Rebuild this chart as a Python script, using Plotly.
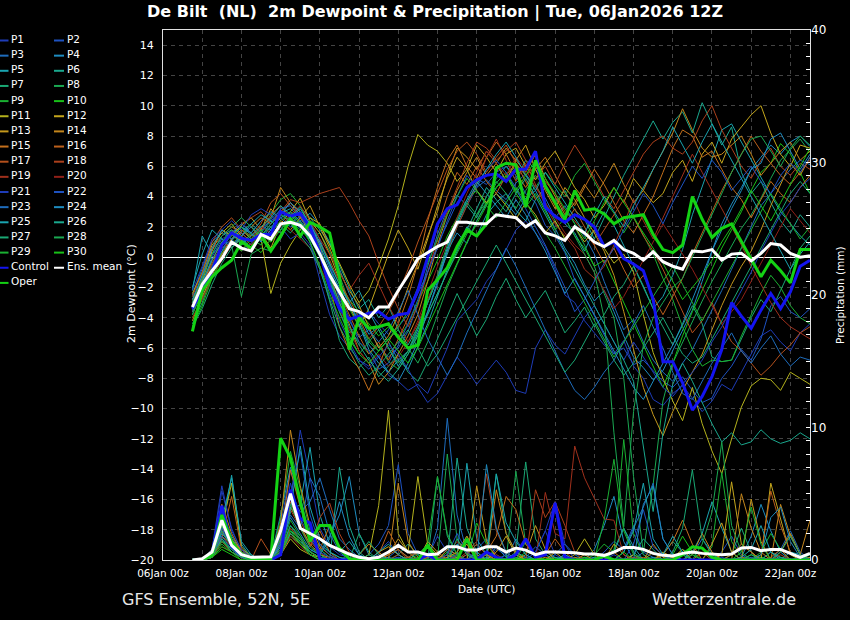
import pandas as pd
import plotly.graph_objects as go

# 6-hourly forecast steps, GFS ensemble run 06Jan2026 12Z
times = pd.date_range("2026-01-06 18:00", "2026-01-22 12:00", freq="6h")

# --- 2m dewpoint (deg C) ---
mean_dew = [-3.3, -1.8, -0.9, -0.1, 1.0, 0.6, 0.4, 1.5, 1.2, 2.2, 2.3, 2.1, 1.4, 0.2, -1.2, -2.3,
            -3.4, -3.6, -4.0, -3.3, -3.3, -2.2, -1.2, -0.1, 0.3, 0.7, 1.0, 2.3, 2.3, 2.2, 2.2, 2.8,
            2.7, 2.6, 2.0, 2.4, 1.6, 1.4, 1.1, 2.0, 1.6, 1.0, 0.7, 1.1, 0.5, 0.25, -0.2, 0.35,
            -0.3, -0.6, -0.8, 0.4, 0.35, 0.5, -0.2, 0.2, 0.25, -0.25, 0.25, 0.9, 0.8, 0.25, 0.0, 0.1]
control_dew = [-3.4, -2.2, -0.9, 0.8, 1.6, 1.25, 1.1, 1.5, 1.5, 3.0, 2.7, 2.9, 2.0, 0.3, -2.0, -3.4,
               -4.1, -3.9, -3.7, -3.6, -4.1, -3.8, -3.7, -2.2, 0.0, 2.2, 3.2, 3.45, 4.6, 5.1, 5.4, 5.5,
               5.0, 5.8, 5.8, 7.0, 3.3, 2.7, 2.3, 2.8, 2.5, 2.0, 0.7, 1.0, -0.1, -0.45, -0.9, -2.8,
               -6.9, -6.9, -8.3, -10.1, -9.2, -7.9, -6.1, -3.0, -3.9, -4.7, -3.5, -2.4, -3.4, -2.3, -0.6, -0.2]
oper_dew = [-4.9, -2.2, -1.3, -0.7, -0.2, 1.0, 0.6, 1.4, 0.4, 1.4, 2.5, 1.4, 2.3, 2.0, 1.6, -1.3,
            -6.1, -4.0, -4.7, -4.6, -4.4, -5.3, -6.0, -5.8, -2.2, -1.5, -0.7, 0.7, 1.8, 1.4, 2.2, 5.9,
            6.2, 6.1, 3.3, 6.4, 4.7, 3.6, 2.5, 4.4, 3.1, 3.2, 2.85, 2.2, 2.6, 2.7, 2.8, 1.5,
            0.5, 0.3, 0.8, 4.0, 2.5, 1.3, 1.9, 2.2, 1.0, -0.2, -1.3, -0.2, -0.9, -1.7, 0.5, 0.5]

p01_dew = [-2.8, -1.5, 0.5, 1.2, 1.6, 0.9, 1.4, 2.0, 1.8, 2.6, 2.9, 2.2, 1.0, -1.5, -3.8, -5.2,
           -6.0, -6.8, -7.2, -6.5, -7.8, -8.2, -8.8, -8.4, -9.0, -7.5, -6.0, -4.2, -3.5, -2.8, -1.6, -0.8,
           0.5, 1.8, 2.4, 1.6, 0.7, -0.8, -2.5, -3.0, -4.2, -5.0, -5.8, -6.4, -5.5, -7.2, -8.0, -9.4,
           -9.8, -9.0, -8.5, -9.3, -10.2, -9.5, -8.4, -8.8, -7.6, -6.5, -5.2, -4.8, -5.6, -6.2, -5.0, -4.4]
p02_dew = [-3.5, -2.0, -0.4, 0.6, 1.2, 1.6, 1.0, 1.9, 2.4, 2.9, 2.2, 2.7, 1.8, 0.6, -0.5, -2.2,
           -3.4, -4.1, -3.6, -4.4, -5.1, -4.6, -3.8, -2.4, -1.0, 0.8, 2.2, 3.6, 4.5, 5.2, 4.8, 5.6,
           6.0, 5.4, 4.2, 3.6, 2.1, 1.4, 0.3, -1.5, -2.6, -3.9, -5.2, -6.4, -6.0, -7.1, -6.8, -7.5,
           -8.2, -8.6, -7.9, -8.8, -9.6, -9.3, -8.0, -7.2, -6.1, -6.8, -5.4, -3.2, -2.6, -3.6, -4.0, -3.4]
p03_dew = [-2.5, -0.8, 1.0, 1.6, 1.2, 0.4, 0.9, 1.7, 2.5, 3.1, 2.6, 1.9, 2.3, 1.2, -0.6, -2.8,
           -4.2, -5.3, -4.8, -5.9, -6.6, -6.0, -4.9, -3.1, -0.6, 1.5, 3.2, 4.1, 3.4, 4.6, 5.1, 4.4,
           3.8, 4.9, 5.5, 4.6, 3.9, 2.6, 3.4, 2.2, 1.4, 0.2, -1.6, -3.2, -4.8, -4.1, -5.6, -6.8,
           -7.6, -8.2, -7.0, -6.1, -4.8, -3.6, -2.2, -0.8, 0.6, 1.9, 3.4, 4.2, 5.0, 5.8, 6.4, 6.1]
p04_dew = [-3.0, -1.2, 0.2, 1.4, 1.8, 1.3, 0.6, 1.2, 2.0, 2.6, 3.0, 2.4, 2.9, 2.1, 1.0, -0.8,
           -2.4, -3.8, -5.1, -4.6, -5.6, -6.8, -6.2, -5.0, -3.6, -1.8, 0.4, 1.6, 0.9, 2.4, 3.5, 4.2,
           3.6, 2.8, 3.9, 4.4, 3.2, 1.9, 0.6, -0.4, -1.8, -2.9, -2.2, -3.6, -5.2, -6.6, -7.3, -8.1,
           -7.5, -6.2, -4.8, -3.5, -1.6, 0.4, 2.2, 3.5, 4.6, 5.8, 6.6, 7.4, 6.8, 7.6, 8.0, 7.3]
p05_dew = [-2.2, 1.4, 0.2, 0.8, 1.6, 2.0, 1.5, 1.1, 1.8, 2.9, 3.2, 2.6, 1.6, 0.2, -1.8, -3.6,
           -5.0, -4.4, -6.1, -7.0, -7.6, -6.8, -7.4, -5.9, -4.4, -2.6, -0.8, 0.6, 2.0, 1.4, 2.8, 3.6,
           4.2, 3.1, 2.4, 3.8, 4.6, 3.5, 2.2, 1.6, 0.4, 1.8, 3.0, 2.1, 0.8, -0.5, -1.9, -3.4,
           -2.6, -1.2, 0.5, 2.8, 4.6, 6.5, 8.4, 8.8, 7.6, 6.4, 5.2, 4.1, 3.0, 2.2, 1.4, 0.8]
p06_dew = [-3.8, -2.2, -0.8, 0.4, 1.1, 1.7, 2.2, 1.6, 2.4, 1.8, 2.7, 3.3, 2.6, 1.8, 0.9, -0.6,
           -2.0, -3.4, -2.8, -4.0, -3.2, -4.8, -5.8, -4.6, -3.0, -1.5, 0.2, 2.0, 3.4, 2.6, 4.0, 5.2,
           6.0, 5.1, 6.4, 5.8, 4.7, 3.6, 4.4, 3.1, 2.5, 1.2, 2.6, 4.0, 5.4, 6.6, 7.8, 9.0,
           7.8, 8.9, 9.6, 8.2, 10.2, 8.8, 7.4, 8.6, 5.6, 4.2, 5.0, 3.6, 2.4, 1.6, 2.8, 2.0]
p07_dew = [-4.4, -3.0, -1.2, 0.2, 0.8, 1.2, 0.4, 1.5, 1.0, 2.2, 1.6, 2.4, 1.0, -0.6, -2.9, -5.5,
           -6.7, -7.3, -6.6, -7.9, -7.2, -6.4, -7.6, -8.2, -6.9, -5.4, -4.0, -2.4, -3.8, -5.2, -4.1, -2.6,
           -1.4, -2.8, -4.0, -3.1, -2.2, -3.6, -5.0, -4.2, -3.3, -4.6, -3.8, -2.6, -1.8, -0.6, -2.0, -3.4,
           -4.6, -5.8, -4.5, -3.2, -4.4, -6.6, -6.9, -6.8, -5.4, -4.0, -2.8, -3.6, -2.2, -0.8, 0.6, 1.4]
p08_dew = [-2.6, -1.8, -0.2, 0.6, 0.8, -2.6, 0.2, 0.6, 0.4, 1.2, 2.4, 1.8, 1.2, 1.6, 0.4, -1.2,
           -3.0, -4.2, -5.6, -6.2, -5.4, -4.8, -6.0, -7.0, -5.6, -3.8, -2.0, -0.5, 1.0, 2.4, 3.6, 4.9,
           5.6, 4.4, 3.5, 4.8, 3.6, 2.4, 1.2, 2.0, 0.8, -0.6, -2.4, -4.0, -8.0, -14.5, -19.5, -15.0,
           -9.5, -7.0, -5.6, -4.3, -2.9, -1.6, -0.4, 0.8, 1.9, 2.8, 3.9, 5.2, 6.4, 7.1, 7.8, 6.9]
p09_dew = [-3.2, -2.0, -0.9, 1.0, 1.8, 0.8, 1.6, 2.4, 2.9, 3.8, 4.2, 3.4, 2.0, 0.4, -1.6, -3.3,
           -4.8, -5.6, -6.4, -5.8, -6.9, -7.4, -6.4, -5.1, -3.8, -2.4, -1.0, 0.3, 1.6, 2.8, 3.6, 4.6,
           5.2, 6.1, 5.4, 4.6, 5.6, 4.8, 4.0, 5.4, 6.2, 5.0, 3.8, 2.9, 1.6, 2.7, 1.4, 0.2,
           -1.4, -2.8, -4.6, -6.1, -7.2, -6.8, -6.9, -6.8, -5.2, -3.8, -2.4, -1.2, -2.0, -3.2, -4.0, -4.4]
p10_dew = [-4.0, -2.8, -1.0, 0.3, 0.9, 1.4, 0.8, 0.3, 1.2, 2.0, 2.8, 2.3, 1.6, 0.9, -0.4, -1.8,
           -2.8, -3.6, -4.4, -5.2, -4.6, -5.4, -4.4, -3.0, -1.6, -0.2, 1.4, 2.6, 3.8, 4.4, 3.5, 4.6,
           5.4, 4.2, 3.3, 4.2, 3.0, 1.8, 2.6, 1.4, 0.6, -0.6, -0.2, -1.6, -3.0, -4.4, -5.8, -7.2,
           -8.6, -7.0, -5.2, -3.6, -2.2, -0.8, 0.6, 1.8, 3.0, 4.4, 5.6, 6.2, 7.5, 6.8, 5.6, 4.2]
p11_dew = [-2.4, -1.0, 0.8, 1.6, 2.2, 1.4, 2.0, 1.2, -2.4, -0.4, 0.8, 1.8, 2.6, 2.2, 0.8, -0.4,
           -1.8, -3.0, -2.2, -0.6, 1.2, 3.4, 6.0, 8.1, 7.4, 7.0, 6.2, 5.0, 5.8, 4.4, 3.6, 4.2,
           3.4, 2.5, 3.6, 2.8, 1.6, 2.4, 1.2, 2.0, 1.0, 1.8, 0.6, -0.4, 0.2, -1.0, -3.8, -6.3,
           -8.0, -9.5, -10.8, -8.6, -11.0, -12.8, -14.3, -12.0, -9.9, -8.5, -8.0, -8.1, -8.8, -7.6, -8.0, -8.4]
p12_dew = [-3.6, -2.4, -0.6, 0.9, 1.5, 1.1, 0.4, 1.6, 0.6, 2.2, 3.0, 3.9, 2.4, 1.6, 0.2, -1.5,
           -3.2, -4.6, -3.4, -1.6, 0.2, 1.8, 0.6, -0.8, 1.2, 3.4, 5.2, 6.6, 5.8, 7.4, 6.6, 5.6,
           6.8, 7.2, 6.0, 5.1, 6.2, 7.0, 5.8, 4.6, 3.8, 2.6, 3.4, 4.6, 3.6, 5.2, 4.4, 3.6,
           4.2, 5.6, 6.4, 5.0, 6.8, 7.6, 6.2, 7.8, 8.6, 9.4, 10.0, 8.2, 6.8, 6.0, 7.4, 7.2]
p13_dew = [-2.8, -1.6, 0.4, 1.8, 1.4, 2.1, 2.6, 1.8, 3.2, 2.4, 1.8, 2.6, 3.4, 2.0, 0.6, -1.0,
           -2.2, -3.2, -4.6, -6.0, -5.2, -3.8, -2.0, -0.4, 1.4, 3.0, 5.4, 7.2, 6.6, 5.8, 7.0, 6.2,
           5.0, 6.4, 7.4, 5.8, 4.4, 3.2, 4.6, 3.8, 2.6, 1.6, 0.4, -1.2, -3.6, -6.2, -8.6, -10.4,
           -11.8, -10.2, -8.8, -7.6, -6.4, -4.8, -3.2, -1.8, -0.6, 0.4, 1.8, 3.4, 4.8, 6.2, 5.4, 6.6]
p14_dew = [-4.2, -2.6, -1.2, 0.2, 1.2, 1.8, 1.2, 2.0, 2.6, 4.6, 3.6, 2.8, 1.6, 0.4, -1.2, -3.0,
           -4.4, -6.2, -7.0, -8.4, -7.6, -6.4, -5.2, -3.8, -1.6, 0.8, 2.8, 4.4, 5.6, 6.6, 5.4, 6.2,
           7.2, 6.4, 5.6, 6.8, 5.2, 4.0, 2.8, 3.6, 4.8, 3.9, 5.0, 6.2, 4.8, 3.6, 4.4, 5.8,
           7.0, 8.2, 9.8, 8.4, 7.2, 6.6, 6.8, 7.4, 8.0, 6.8, 5.4, 6.2, 7.0, 7.6, 6.4, 7.0]
p15_dew = [-3.4, -2.0, -0.2, 1.0, 0.6, 1.4, 2.0, 2.6, 2.2, 3.0, 3.6, 3.0, 2.2, 0.8, -1.8, -4.6,
           -6.2, -7.4, -8.8, -7.2, -5.6, -4.4, -2.6, -0.4, 2.4, 4.6, 6.4, 7.4, 6.0, 5.2, 6.6, 7.6,
           6.8, 5.6, 4.6, 5.8, 6.6, 5.4, 4.2, 3.4, 4.6, 5.8, 4.8, 3.6, 2.4, 1.6, 2.8, 4.0,
           5.6, 7.2, 8.4, 8.0, 6.6, 7.0, 5.8, 4.6, 3.8, 2.6, 3.8, 5.0, 4.2, 3.6, 4.6, 5.4]
p16_dew = [-3.0, -1.4, 0.6, 1.4, 2.0, 1.6, 1.0, 1.8, 2.8, 3.4, 2.6, 2.0, 1.4, 0.2, -1.0, -2.4,
           -3.8, -5.2, -6.4, -5.6, -6.8, -5.4, -4.0, -2.2, -0.2, 2.0, 4.0, 5.6, 4.8, 6.0, 5.0, 4.2,
           5.4, 6.2, 5.0, 3.8, 4.6, 3.4, 2.2, 3.2, 2.0, 0.8, -0.4, 0.6, -0.8, -2.0, -1.2, -2.6,
           -3.8, -2.6, -1.4, 0.2, 1.6, 3.0, 4.4, 5.6, 6.8, 8.0, 7.0, 6.2, 5.4, 4.8, 5.6, 6.4]
p17_dew = [-2.6, -1.0, 1.0, 2.0, 2.6, 1.8, 1.4, 2.2, 3.6, 4.2, 3.4, 2.6, 1.8, 1.0, -0.2, -1.6,
           -2.8, -4.0, -5.4, -4.6, -3.6, -2.4, -0.8, 1.0, 2.6, 4.2, 5.8, 7.0, 7.6, 6.8, 5.6, 6.6,
           7.4, 6.2, 5.4, 6.0, 5.0, 4.2, 3.0, 2.4, 1.6, 0.8, 1.8, 2.8, 3.8, 2.6, 1.4, 0.4,
           -0.8, -2.2, -3.6, -5.0, -4.2, -3.0, -4.4, -5.6, -6.2, -7.0, -7.8, -7.2, -6.4, -5.8, -5.0, -4.6]
p18_dew = [-3.2, -2.2, -0.4, 0.8, 1.6, 2.2, 2.6, 3.0, 2.2, 3.0, 3.8, 3.6, 3.9, 4.2, 4.4, 4.6,
           3.6, 2.4, 1.4, -0.4, -2.0, -3.4, -4.6, -3.2, -1.0, 1.2, 3.0, 4.6, 6.2, 7.6, 7.2, 6.4,
           7.0, 7.6, 6.4, 5.2, 6.0, 4.8, 6.2, 7.4, 6.4, 5.2, 4.0, 3.2, 4.4, 5.6, 6.8, 7.6,
           8.0, 7.2, 6.8, 7.6, 9.0, 10.0, 8.4, 7.2, 6.0, 5.2, 6.4, 7.2, 6.0, 5.4, 6.2, 5.8]
p19_dew = [-4.0, -2.8, -1.4, -0.2, 0.8, 1.4, 0.8, 1.6, 1.0, 2.0, 2.8, 3.4, 2.4, 1.2, 0.2, -1.0,
           -2.2, -1.2, -0.4, -1.8, -3.2, -4.4, -5.6, -4.4, -2.8, -1.2, 0.4, 2.0, 3.4, 4.8, 6.6, 7.8,
           6.4, 5.0, 6.2, 4.8, 3.4, 2.2, 1.4, 0.6, -0.8, -1.4, -0.6, 0.8, 2.2, 3.8, 2.4, 1.2,
           2.6, 4.0, 5.4, 6.8, 5.6, 4.4, 3.2, 2.0, 0.8, -0.6, -1.8, -3.0, -4.0, -4.6, -5.0, -5.4]
p20_dew = [-3.4, -2.0, -0.6, 0.6, 1.0, 0.4, 1.2, 2.0, 1.6, 2.4, 1.8, 1.2, 0.6, -0.6, -2.0, -3.4,
           -4.8, -6.2, -7.0, -6.4, -7.2, -6.6, -5.6, -4.2, -2.4, -0.6, 1.0, 2.6, 4.2, 5.6, 7.0, 6.2,
           5.4, 6.6, 5.8, 4.6, 3.6, 2.6, 1.6, 0.8, 0.2, -1.0, -2.2, -3.4, -2.6, -1.4, -0.2, 1.0,
           2.2, 1.2, 0.2, -0.8, -2.0, -3.2, -4.4, -3.6, -2.8, -1.6, -0.4, 0.8, 2.0, 3.2, 2.4, 1.6]
p21_dew = [-2.2, -0.6, 1.2, 1.8, 2.4, 1.8, 2.8, 3.2, 2.8, 2.0, 1.2, 1.6, 0.8, -0.8, -2.6, -4.2,
           -5.6, -6.8, -7.4, -6.6, -5.8, -6.4, -7.4, -8.6, -9.6, -9.0, -7.8, -6.6, -7.4, -8.4, -7.6, -6.8,
           -7.6, -8.8, -9.0, -6.0, -4.8, -5.8, -6.4, -5.2, -4.0, -3.2, -4.4, -5.6, -6.8, -5.6, -6.6, -7.6,
           -8.6, -9.2, -8.4, -7.6, -6.8, -5.6, -4.6, -3.4, -2.2, -1.0, 0.4, 1.6, 2.8, 3.6, 4.6, 5.2]
p22_dew = [-3.0, -1.8, 0.0, 1.2, 0.8, 1.4, 2.0, 1.4, 2.2, 3.2, 3.4, 2.8, 1.6, 0.4, -1.0, -2.6,
           -4.0, -5.6, -6.2, -7.4, -7.0, -5.8, -4.4, -2.8, -1.0, 0.6, 2.4, 4.0, 5.4, 4.6, 5.8, 6.4,
           5.6, 4.6, 3.2, 2.0, 0.8, -0.6, -2.0, -3.6, -2.8, -1.6, -0.4, 0.6, 1.8, 3.0, 4.2, 3.4,
           2.2, 3.6, 4.8, 6.0, 5.2, 6.4, 5.6, 4.4, 5.2, 6.0, 5.0, 4.2, 5.4, 6.2, 5.6, 6.6]
p23_dew = [-3.6, -2.4, -0.8, 0.4, 1.6, 2.2, 1.6, 2.4, 3.0, 2.6, 2.0, 2.4, 1.6, 0.2, -1.6, -3.2,
           -4.2, -3.6, -4.8, -5.6, -4.8, -3.6, -2.2, -3.8, -5.4, -6.6, -7.8, -6.6, -5.0, -3.6, -2.2, -0.8,
           0.6, -0.6, -2.0, -3.4, -4.8, -6.2, -7.6, -8.8, -9.4, -8.6, -7.6, -6.8, -5.6, -4.4, -3.2, -4.6,
           -6.0, -7.6, -9.0, -9.4, -8.2, -7.0, -6.0, -5.0, -6.2, -7.0, -6.0, -5.2, -6.4, -7.2, -6.6, -6.8]
p24_dew = [-2.8, -1.2, 0.6, 1.8, 1.2, 2.0, 1.6, 1.0, 1.8, 2.8, 3.6, 3.0, 2.2, 0.8, -0.8, -2.0,
           -3.0, -4.4, -5.8, -6.6, -7.6, -8.2, -7.0, -5.6, -3.6, -1.6, 0.4, 2.4, 3.8, 5.0, 4.2, 3.4,
           2.6, 3.8, 2.8, 1.6, 0.4, -1.0, -2.4, -1.4, -2.6, -3.8, -5.0, -6.2, -7.4, -8.6, -9.4, -8.2,
           -7.0, -5.8, -4.4, -2.8, -1.2, 0.4, 1.8, 3.2, 4.4, 5.8, 6.2, 7.8, 8.2, 7.0, 5.8, 6.8]
p25_dew = [-2.0, 0.2, 1.8, 1.2, 0.6, 1.4, 2.2, 2.8, 2.4, 1.8, 2.6, 3.2, 2.2, 1.0, -0.4, -1.8,
           -3.0, -2.2, -3.6, -4.8, -6.0, -7.2, -6.2, -4.8, -3.0, -1.4, 0.6, 2.2, 3.6, 4.8, 5.8, 6.8,
           7.6, 6.6, 5.4, 4.4, 5.6, 4.6, 3.6, 2.6, 1.6, 2.8, 4.0, 3.0, 2.0, 3.4, 4.6, 5.8,
           7.0, 8.6, 7.4, 6.2, 7.6, 8.8, 7.6, 6.4, 5.2, 4.0, 2.8, 1.6, 0.4, -0.8, 0.2, 1.0]
p26_dew = [-3.4, -1.6, -0.2, 1.0, 1.6, 0.8, 1.4, 2.0, 2.6, 3.4, 2.8, 2.0, 1.2, 0.0, -1.4, -3.0,
           -4.6, -5.8, -6.8, -7.6, -8.2, -7.4, -6.4, -5.2, -3.8, -2.4, -1.0, 0.4, 1.8, 3.2, 4.6, 3.8,
           3.0, 4.2, 5.2, 4.0, 2.8, 1.6, 0.4, -0.8, -2.0, -3.2, -4.4, -5.6, -6.8, -8.2, -12.4, -16.8,
           -11.6, -8.4, -7.0, -8.2, -9.6, -11.0, -12.2, -11.6, -12.4, -12.2, -11.4, -12.0, -12.3, -12.1, -11.6, -12.0]
p27_dew = [-4.6, -3.4, -1.8, -0.4, 0.6, 1.2, 0.6, 1.4, 2.0, 1.6, 2.2, 1.4, 0.6, -0.8, -2.8, -4.6,
           -5.8, -7.0, -7.8, -7.2, -6.4, -5.6, -4.8, -6.0, -7.2, -6.4, -5.2, -4.0, -2.8, -1.6, -0.4, 0.8,
           -0.4, -1.6, -2.8, -4.0, -5.2, -6.4, -7.6, -6.8, -5.6, -4.4, -5.6, -6.8, -7.8, -7.0, -6.0, -5.0,
           -4.0, -5.2, -6.4, -7.0, -6.6, -5.4, -4.2, -3.0, -1.8, -0.6, 0.6, 1.8, 3.0, 4.2, 5.0, 4.2]
p28_dew = [-3.0, -1.4, 0.2, 1.4, 2.0, 2.6, 2.0, 1.4, 2.2, 2.8, 2.4, 3.0, 2.0, 0.6, -1.2, -3.6,
           -5.2, -6.4, -5.6, -4.8, -6.0, -7.0, -6.2, -4.6, -3.0, -1.2, 0.8, 2.4, 3.6, 2.8, 4.0, 5.0,
           4.2, 3.2, 4.4, 5.4, 4.6, 3.6, 2.6, 1.4, 0.2, -1.0, -4.0, -11.6, -17.8, -10.2, -5.8, -4.0,
           -3.0, -2.0, -1.4, 0.0, 1.4, 2.8, 4.2, 5.6, 6.8, 7.8, 8.0, 7.0, 6.0, 7.2, 8.0, 7.4]
p29_dew = [-3.8, -2.2, -0.6, 0.8, 1.4, 2.0, 1.2, 0.8, 1.6, 2.4, 3.0, 2.2, 1.4, 0.4, -1.0, -2.2,
           -3.4, -4.6, -5.4, -6.2, -5.4, -4.6, -3.6, -2.0, -0.4, 1.2, 2.8, 4.0, 5.2, 4.4, 3.4, 2.6,
           3.6, 4.6, 3.6, 2.6, 1.6, 0.6, -0.6, -1.8, -3.0, -4.2, -5.4, -6.6, -5.6, -4.6, -3.6, -2.6,
           -1.6, -0.6, -1.8, -3.0, -4.2, -3.0, -1.8, -0.6, 0.6, 1.8, 3.0, 4.2, 3.2, 2.2, 1.2, 2.0]
p30_dew = [-4.6, -3.2, -1.4, 0.0, 1.0, 0.4, 1.2, 1.8, 1.0, 1.8, 2.6, 2.0, 1.0, -0.6, -2.4, -4.0,
           -5.4, -6.4, -7.0, -6.2, -5.4, -6.2, -7.0, -6.0, -4.6, -3.2, -1.8, -0.4, 1.0, 2.2, 3.4, 4.6,
           5.4, 4.4, 5.4, 6.4, 5.2, 4.2, 3.2, 2.2, 1.2, 2.4, 3.6, 4.6, 3.6, 2.6, 1.6, 0.6,
           -0.4, -1.6, -2.8, -2.0, -1.2, -0.2, 1.0, 2.0, 3.2, 4.4, 3.4, 2.4, 3.6, 4.8, 6.0, 7.2]

# --- 6h precipitation (mm) ---
mean_pcp = [0.0, 0.1, 0.6, 3.0, 1.1, 0.4, 0.2, 0.2, 0.25, 2.2, 5.0, 2.4, 2.0, 1.6, 1.1, 0.75,
            0.45, 0.2, 0.1, 0.2, 0.6, 1.1, 0.6, 0.6, 0.4, 0.45, 1.0, 1.0, 0.75, 0.75, 1.0, 1.0,
            0.6, 0.9, 0.75, 0.4, 0.6, 0.6, 0.6, 0.55, 0.45, 0.45, 0.35, 0.6, 0.95, 0.95, 0.8, 0.5,
            0.35, 0.3, 0.5, 0.6, 0.5, 0.45, 0.4, 0.45, 0.9, 0.95, 0.7, 0.8, 0.8, 0.5, 0.2, 0.5]
control_pcp = [0.0, 0.0, 0.5, 4.1, 1.0, 0.4, 0.1, 0.0, 0.0, 0.4, 5.3, 3.1, 2.8, 0.1, 0.0, 0.0,
               0.0, 0.0, 0.0, 0.0, 0.0, 0.0, 0.0, 0.0, 0.4, 0.0, 0.0, 0.0, 0.0, 0.0, 0.6, 0.2,
               0.0, 0.4, 1.6, 0.2, 0.4, 4.3, 0.2, 0.0, 0.0, 0.0, 0.0, 0.0, 0.0, 0.0, 0.0, 0.0,
               0.0, 0.0, 0.0, 0.0, 0.0, 0.0, 0.0, 0.0, 0.0, 0.0, 0.0, 0.0, 0.0, 0.0, 0.0, 0.0]
oper_pcp = [0.0, 0.0, 0.4, 3.4, 1.4, 0.4, 0.1, 0.1, 0.1, 9.2, 7.7, 4.4, 1.4, 2.6, 2.6, 0.9,
            0.1, 0.0, 0.0, 0.0, 0.0, 0.0, 0.0, 0.0, 1.1, 0.0, 0.0, 0.0, 1.6, 0.0, 0.0, 0.0,
            0.0, 0.0, 0.0, 0.0, 0.0, 0.0, 0.0, 0.0, 0.0, 0.0, 0.3, 0.0, 0.0, 0.0, 0.0, 0.0,
            0.0, 0.0, 0.4, 1.0, 0.9, 0.2, 0.0, 0.0, 0.0, 0.0, 0.0, 0.0, 0.0, 0.0, 0.0, 0.0]

p01_pcp = [0, 0, 0.6, 5.2, 2.4, 0.6, 0.2, 0, 0, 1.2, 4.6, 9.8, 6.2, 2.4, 1.0, 0.4,
           0.2, 0, 0, 0.6, 1.4, 0.4, 0, 0, 0.2, 1.8, 0.6, 0, 0.4, 0, 0, 0.8,
           0.4, 0, 0, 0.6, 2.2, 0.4, 0, 0, 0, 0.2, 0, 0, 0, 0.4, 0, 0,
           0, 0, 0, 0, 0, 0, 0.2, 0, 0, 0, 0, 0, 0, 0, 0, 0.2]
p02_pcp = [0, 0, 0.4, 3.8, 1.6, 0.4, 0, 0, 0.2, 2.6, 6.8, 4.2, 2.0, 0.8, 0.2, 0,
           0, 0, 0.4, 1.2, 2.6, 7.2, 2.0, 0.4, 0, 0, 0.6, 0.2, 0, 0.8, 1.6, 0.4,
           0, 0, 0.2, 1.0, 0.4, 0, 0, 0, 0, 0, 0.6, 1.4, 0.8, 2.6, 0.4, 0,
           0, 0.2, 0, 0, 0, 0, 0.6, 1.8, 0.4, 0, 0, 0.6, 0.2, 0, 0, 0]
p03_pcp = [0, 0, 0.2, 2.6, 1.0, 0.2, 0, 0, 0, 1.8, 5.2, 3.6, 4.4, 6.2, 3.8, 1.6,
           0.8, 0.2, 0, 0, 0.2, 0.8, 0.2, 0, 0, 2.4, 10.7, 3.4, 0.6, 0, 0.2, 0,
           0, 1.6, 0.4, 0, 0, 0.4, 1.2, 0.4, 0, 0, 0.2, 0, 0, 0, 0.6, 0.2,
           0, 0, 0, 0.4, 1.6, 0.6, 0, 0, 0, 0.2, 0, 0, 0.8, 2.2, 0.6, 0]
p04_pcp = [0, 0, 0.4, 3.4, 1.8, 0.6, 0, 0, 0.2, 3.4, 7.0, 4.8, 1.6, 0.6, 1.8, 3.4,
           6.3, 2.0, 0.4, 0, 0, 0.2, 0, 0, 0.4, 0.2, 0, 1.2, 0.6, 0, 0, 1.0,
           0.2, 0, 0, 0, 0.6, 0.2, 0, 0, 0, 0.8, 2.6, 4.8, 1.4, 0, 0, 0.2,
           0, 0, 0.4, 0, 0, 0, 0, 0, 0.2, 1.8, 4.2, 2.2, 0.6, 0, 0.2, 0]
p05_pcp = [0, 0, 0.6, 2.2, 6.4, 1.2, 0.2, 0, 0, 1.0, 3.6, 4.2, 8.5, 3.4, 1.2, 0.6,
           1.4, 0.4, 0, 0, 0.2, 0, 0, 0.6, 0.2, 0, 0.8, 0.4, 7.3, 1.6, 0.4, 0,
           0, 0.6, 0.2, 0, 0, 0, 0.4, 0, 0, 0.2, 0, 0.6, 2.4, 1.0, 0, 0,
           0, 0, 0, 0.6, 2.0, 4.4, 2.4, 0.6, 0, 0, 0.2, 0, 0, 0.6, 0.4, 0]
p06_pcp = [0, 0, 0.2, 1.4, 0.8, 0.2, 0, 0, 0, 0.6, 2.2, 1.6, 0.8, 0.4, 0, 7.0,
           2.6, 0.6, 0, 0, 0, 0.4, 1.2, 0.4, 0, 0.2, 0, 7.7, 2.4, 0.6, 0, 0,
           0.4, 0, 0, 0, 0, 0.2, 0, 0, 0.2, 0, 0, 0, 0, 0.4, 1.6, 0.8,
           0, 0, 0, 0, 0, 0, 0, 0, 0, 0, 0, 0.6, 0.2, 0, 0, 0]
p07_pcp = [0, 0, 0.8, 2.0, 1.4, 0.8, 0.4, 0, 0, 0.8, 2.6, 1.8, 0.6, 1.2, 0.6, 0.2,
           0, 2.0, 0.6, 0, 0, 0, 0.2, 0.6, 0, 6.3, 1.8, 0.4, 0, 0, 0.6, 6.5,
           2.0, 0.6, 7.4, 1.6, 0.4, 0, 0, 0.2, 0, 0, 0, 0.8, 2.4, 0.6, 0, 0,
           0.4, 1.4, 0.6, 0, 0, 0, 0, 0.4, 2.4, 0.6, 0, 0, 0.2, 0, 0, 0]
p08_pcp = [0, 0, 0.4, 1.6, 0.8, 0.4, 0.2, 0, 0, 0.4, 1.8, 1.2, 0.4, 0, 0, 0,
           0.4, 0.2, 0, 0, 0, 0, 0, 0.2, 0, 0, 8.0, 1.6, 0.4, 0, 0, 0,
           0, 6.7, 1.2, 0.2, 0, 0, 0, 0, 0, 0, 0.4, 0, 0, 0, 0, 0,
           0, 0.2, 0, 0, 0, 0, 0, 0, 0.2, 0, 0, 0, 0, 0, 0, 0]
p09_pcp = [0, 0, 0.2, 1.2, 0.6, 0.2, 0, 0, 0, 3.2, 8.2, 5.4, 2.2, 0.8, 0.2, 0,
           0, 0, 0, 0.2, 0, 0, 0, 0, 0.4, 0, 0, 0.6, 1.8, 0.4, 0, 0,
           0, 0.2, 0, 0, 0, 0, 0, 0, 0, 0.4, 1.2, 0.6, 9.1, 2.0, 0.4, 0,
           0, 0, 0.8, 0.4, 0, 1.0, 6.6, 1.4, 0.2, 0, 0.6, 2.0, 0.8, 0, 0, 0]
p10_pcp = [0, 0, 0.2, 0.8, 0.4, 0, 0, 0, 0, 0.6, 2.4, 1.4, 0.6, 0.2, 0, 0,
           0, 0.2, 0, 0, 0, 0, 0, 0, 0, 0, 0.6, 0.2, 0, 2.8, 1.2, 0.2,
           0, 0, 0.6, 0.4, 0, 0, 0, 0, 0.2, 0, 0, 0, 0, 0, 0, 0,
           0, 0.4, 1.8, 0.6, 0, 0, 0, 0, 0, 0.4, 0.2, 0, 0, 0, 0, 0]
p11_pcp = [0, 0, 0.2, 2.4, 5.8, 1.0, 0.2, 0, 0, 0.4, 1.6, 0.8, 0.4, 0.2, 0, 0,
           0, 0, 0.4, 4.1, 11.3, 2.0, 0.6, 6.3, 1.2, 0.4, 0, 0.2, 0, 0, 0.4, 0,
           0, 0, 0, 0, 0, 0, 0, 0.4, 1.6, 0.4, 0, 0, 0, 0, 0, 0,
           0, 0, 0, 0, 0, 0, 0, 0, 0.2, 0, 0, 0, 0, 0, 0, 0]
p12_pcp = [0, 0, 0.4, 1.8, 1.2, 0.4, 0, 0, 0, 0.6, 2.0, 1.2, 0.6, 0.2, 0, 0,
           0, 0, 0, 0.6, 1.0, 0.4, 0, 0, 1.4, 0.6, 0, 0.4, 1.2, 0, 0, 0.6,
           1.8, 0.4, 0, 0, 0, 0.6, 0, 0, 0, 0, 0, 0, 0, 0.4, 0, 0,
           0.6, 0.2, 0, 0, 0, 0, 0.4, 5.9, 1.2, 0.6, 0, 5.8, 3.0, 0.4, 0, 0.2]
p13_pcp = [0, 0, 0.6, 3.2, 1.6, 0.6, 0, 0, 0, 1.4, 4.0, 2.6, 1.2, 0.4, 0.2, 0,
           0, 0, 0, 0, 0.4, 1.6, 0.6, 0, 0, 0, 0.4, 0, 0, 5.6, 1.4, 0.2,
           0, 0, 0.4, 2.6, 0.8, 0, 0, 0, 0.4, 0, 0, 1.2, 0.4, 0, 0, 0.6,
           0, 0.2, 0.8, 0, 0, 1.2, 2.8, 0.6, 0, 4.6, 1.4, 0, 0.6, 2.0, 0.4, 0]
p14_pcp = [0, 0, 0.8, 4.2, 2.0, 0.6, 0.2, 0, 0, 2.8, 9.8, 5.6, 2.6, 1.0, 0.4, 0,
           0, 0.4, 1.2, 0.6, 0, 5.8, 1.4, 0.2, 0, 0, 0.2, 0.6, 1.8, 0.4, 0, 5.3,
           2.0, 0.6, 0, 0, 0.2, 0, 0, 0, 0, 0, 0.2, 0.6, 0, 0, 0, 1.2,
           0.2, 0, 0, 0.4, 2.0, 0.6, 0, 0, 5.0, 2.4, 0.6, 0, 4.2, 1.8, 0.4, 3.0]
p15_pcp = [0, 0, 0.4, 2.8, 1.4, 0.8, 0.2, 0, 0, 1.6, 6.8, 4.0, 1.8, 0.8, 2.6, 1.0,
           0.4, 0, 0, 0, 0.4, 0.8, 0.2, 0, 0, 0, 0.8, 0.4, 0, 0, 0.6, 1.8,
           4.8, 3.8, 1.2, 0.4, 0, 0, 0, 0.2, 0, 0, 0, 0, 0, 0, 0, 0,
           0.4, 1.4, 3.0, 1.2, 0, 0, 0, 0.4, 1.2, 0.6, 0, 0.2, 0.8, 0, 0, 0]
p16_pcp = [0, 0, 0.2, 1.6, 4.8, 0.8, 0, 0, 0, 0.8, 4.4, 2.6, 1.0, 2.2, 0.6, 0,
           0, 0, 0, 0.4, 2.2, 0.8, 0, 0, 0.2, 0.6, 0, 0, 0.4, 1.2, 0.4, 0,
           0, 0, 0, 0, 0.4, 1.6, 0.6, 0, 0, 0, 0.4, 0, 0, 0, 0.2, 0,
           0, 0, 0, 0, 0.6, 0, 0, 0, 0, 0, 0.4, 5.2, 2.6, 0.6, 0, 0]
p17_pcp = [0, 0, 0.6, 2.2, 1.0, 0.4, 0, 1.6, 0.4, 1.4, 5.2, 3.0, 1.4, 0.6, 0, 0,
           0, 0, 0, 0, 0, 0, 0.2, 0.6, 0, 0, 0, 0.4, 0, 0, 0, 0,
           0, 0, 0, 0, 0, 0, 0, 0, 0, 0, 0, 0, 0, 0.2, 0, 0,
           0, 0, 0, 0, 0, 0, 0, 0, 0.2, 0, 0, 0, 0, 0, 0, 0]
p18_pcp = [0, 0, 0.2, 1.4, 0.6, 0.2, 0, 0, 0, 1.0, 3.8, 2.4, 1.0, 3.2, 4.3, 2.0,
           0.6, 0, 0, 0, 0, 0.4, 0, 0, 0, 0.2, 0, 0, 0.6, 1.4, 6.5, 2.2,
           0.6, 0, 0, 5.3, 3.2, 4.4, 2.6, 0.6, 0, 0, 0, 0, 0, 0.2, 0, 0,
           0, 0, 0, 0, 0, 0, 0, 0, 0, 0, 0, 0, 0.4, 0, 0, 0]
p19_pcp = [0, 0, 0.4, 1.8, 1.0, 0.4, 0, 0, 0, 0.6, 2.4, 1.6, 0.6, 0.2, 0, 0,
           0, 0, 0, 0, 0, 0, 0, 0, 0, 0, 0.4, 1.4, 0.6, 0, 0, 0,
           0, 0, 0, 0, 5.1, 2.0, 1.6, 8.6, 6.2, 4.6, 3.1, 3.0, 0.4, 0, 0, 0,
           0, 0, 0, 0, 0, 0, 0, 0, 0, 0, 0, 0, 0, 0, 0, 0]
p20_pcp = [0, 0, 0.2, 1.0, 0.6, 0.2, 0, 0, 0, 0.4, 1.8, 1.0, 0.4, 0, 0, 0,
           0, 0, 0, 0, 0, 0, 0, 0, 0, 0, 0, 0, 0, 0.4, 1.2, 0.4,
           0, 0, 0, 0, 0, 0, 0, 0, 0, 0, 0, 0, 0, 0, 0, 0,
           0, 0, 0, 0, 0, 0, 0, 0, 0, 0, 0, 0, 0, 0, 0, 0]
p21_pcp = [0, 0, 0.8, 5.6, 2.2, 0.8, 0.2, 0, 0, 2.0, 5.8, 3.2, 1.6, 0.6, 0.2, 0,
           0, 0, 0, 0, 0, 0.2, 0, 0, 0, 0, 0, 0.4, 0, 0, 0, 0,
           0, 0, 0, 0.6, 2.2, 4.4, 1.2, 0, 0, 0, 0, 0.4, 0, 0, 0, 0,
           0, 0, 0, 0, 0, 0, 0, 0, 0, 0, 0, 0, 0, 0, 0, 0]
p22_pcp = [0, 0, 0.4, 2.4, 1.0, 0.4, 0, 0, 0, 1.4, 4.8, 8.2, 3.4, 1.2, 0.4, 0,
           0, 0, 0, 0.4, 0, 0, 0, 0, 0, 0, 0.4, 2.0, 0.6, 0, 0, 0,
           0.4, 0, 0, 0, 0, 0, 0, 0, 0, 0, 0, 0, 0, 1.2, 3.8, 1.0,
           0.4, 0, 0, 0, 0, 0, 0, 0, 0, 0, 0, 0, 0, 0, 0, 0]
p23_pcp = [0, 0, 0.2, 1.8, 0.8, 0.2, 0, 0, 0, 0.8, 3.4, 2.4, 6.2, 4.8, 2.0, 0.6,
           0, 0, 0, 0, 0, 0, 0, 0, 0, 0, 0, 0, 0, 0, 0, 0,
           0, 0, 0, 0, 0, 0, 0, 0, 0, 0, 0, 0, 0.6, 2.4, 4.0, 5.8,
           1.6, 0.4, 0, 0, 0, 0, 0, 0, 0, 0, 0, 0, 0, 0, 0, 0]
p24_pcp = [0, 0, 0.4, 2.0, 1.2, 0.4, 0, 0, 0, 1.2, 3.2, 2.0, 0.8, 0.4, 1.6, 4.4,
           1.8, 0.4, 0, 0, 0, 0, 0, 0, 0, 0, 0, 0, 0, 0, 7.2, 2.4,
           0.6, 0, 0, 0, 0, 0, 0.4, 0, 0, 0, 0, 0, 0, 0, 4.2, 5.6,
           1.6, 0.4, 0, 0, 0, 0, 0, 0, 0, 0, 0.4, 3.2, 4.0, 1.4, 0.2, 0]
p25_pcp = [0, 0, 0.6, 3.0, 6.2, 1.4, 0.4, 0, 0, 1.0, 3.8, 8.6, 4.0, 1.6, 0.6, 0.2,
           0, 0, 0, 0.6, 1.2, 0.4, 0, 0, 0, 0, 0, 0, 0, 0.6, 0, 6.5,
           2.8, 1.4, 0.4, 0, 0, 0, 0.2, 0, 0, 0, 0, 0, 0.6, 2.2, 5.8, 1.6,
           0.4, 1.8, 0.6, 0, 0, 0, 0, 0, 0.2, 0.8, 2.6, 0.6, 0, 0, 0, 0]
p26_pcp = [0, 0, 0.2, 1.6, 0.6, 0.2, 0, 0, 0, 0.4, 2.0, 1.4, 0.6, 0.2, 0, 0,
           0, 0, 0, 0, 0, 0, 0, 0, 0, 0, 0, 0, 0, 0, 0, 0,
           0, 0, 0, 0, 0, 0, 0, 0, 0, 0, 0, 0, 0, 0, 0, 0,
           0, 0, 0, 0, 0, 0, 0, 0, 0, 0, 0, 0, 0, 0, 0, 0]
p27_pcp = [0, 0, 0.4, 2.2, 1.0, 0.4, 0.2, 0, 0, 0.6, 2.6, 1.6, 0.4, 0, 0, 0,
           0, 0.4, 1.4, 0.4, 0, 0, 0, 0, 0, 0, 0, 1.6, 0.4, 0, 0, 0,
           0, 0, 0, 0, 0, 0, 0, 0, 0, 0, 0, 0, 0, 0, 0, 0,
           0, 0.6, 2.4, 6.8, 1.6, 0.4, 0, 0, 0, 0.4, 0, 0, 0.6, 1.8, 0.4, 0]
p28_pcp = [0, 0, 0.6, 2.6, 1.4, 0.6, 0.2, 0, 0, 1.6, 4.2, 2.4, 1.0, 0.4, 0, 0,
           0, 0, 0.4, 0, 0, 0, 0, 0, 0, 0, 0, 0, 0, 0, 0.6, 0.2,
           0, 0, 1.4, 0.4, 0, 0, 0, 0, 0, 0, 0, 0, 0, 0, 0, 0,
           0, 0, 0.4, 0, 1.2, 3.6, 8.9, 2.6, 0.6, 0, 0, 0, 0, 0, 0, 0.4]
p29_pcp = [0, 0, 0.4, 1.4, 0.8, 0.4, 0, 0, 0, 0.8, 3.0, 1.8, 0.6, 0.2, 0, 0,
           0, 0, 0, 0, 0, 0, 0, 0.4, 1.2, 6.3, 2.0, 0.4, 0, 0, 0, 0,
           0, 0, 0, 0, 0, 0, 0, 0, 0, 0, 3.0, 7.6, 2.2, 0.4, 0, 0,
           0, 0, 0, 0.4, 0, 0, 0, 0, 0.6, 4.0, 1.2, 0, 0, 0, 0, 0]
p30_pcp = [0, 0, 0.2, 1.0, 0.6, 0, 0, 0, 0, 0.4, 2.2, 1.2, 0.4, 0, 0, 0,
           0, 0, 0, 0, 0, 0, 0, 0, 0, 0, 0, 0, 0, 0, 0, 0,
           0, 0, 0, 0, 0, 0, 0, 0, 0, 0, 0, 0, 0.6, 0, 0, 0,
           0, 0, 0, 0, 0, 0, 0, 0, 0, 0, 0, 0, 0, 0, 0, 0]

members_dew = [p01_dew, p02_dew, p03_dew, p04_dew, p05_dew, p06_dew, p07_dew, p08_dew, p09_dew, p10_dew,
               p11_dew, p12_dew, p13_dew, p14_dew, p15_dew, p16_dew, p17_dew, p18_dew, p19_dew, p20_dew,
               p21_dew, p22_dew, p23_dew, p24_dew, p25_dew, p26_dew, p27_dew, p28_dew, p29_dew, p30_dew]
members_pcp = [p01_pcp, p02_pcp, p03_pcp, p04_pcp, p05_pcp, p06_pcp, p07_pcp, p08_pcp, p09_pcp, p10_pcp,
               p11_pcp, p12_pcp, p13_pcp, p14_pcp, p15_pcp, p16_pcp, p17_pcp, p18_pcp, p19_pcp, p20_pcp,
               p21_pcp, p22_pcp, p23_pcp, p24_pcp, p25_pcp, p26_pcp, p27_pcp, p28_pcp, p29_pcp, p30_pcp]
member_names = ["P%d" % (k + 1) for k in range(30)]

# colour cycle of 20 (blue -> green -> yellow -> red), repeated for P21-P30
palette = ['#1e3cb8', '#1e52c0', '#1e6cbc', '#1e8cc0', '#1aa4b0', '#1aa88e', '#1aa874', '#1aa852',
           '#1ab032', '#18c018', '#b4b21c', '#c4a61c', '#c4981c', '#c4861c', '#c4701c', '#bc601c',
           '#b4501c', '#ac401c', '#a0301c', '#902018']
member_colors = [palette[k % 20] for k in range(30)]

CONTROL = '#1414f0'
OPER = '#14d214'
MEAN = '#ffffff'
GRID = '#444444'
FONT = 'DejaVu Sans'

fig = go.Figure()

for k in range(30):
    fig.add_trace(go.Scatter(x=times, y=members_dew[k], mode='lines', name=member_names[k],
                             line=dict(color=member_colors[k], width=1), hoverinfo='skip'))
for k in range(30):
    fig.add_trace(go.Scatter(x=times, y=members_pcp[k], mode='lines', yaxis='y2', name=member_names[k],
                             line=dict(color=member_colors[k], width=1), hoverinfo='skip'))

for ydata, col in [(control_dew, CONTROL), (oper_dew, OPER), (mean_dew, MEAN)]:
    fig.add_trace(go.Scatter(x=times, y=ydata, mode='lines', line=dict(color=col, width=3)))
for ydata, col in [(control_pcp, CONTROL), (oper_pcp, OPER), (mean_pcp, MEAN)]:
    fig.add_trace(go.Scatter(x=times, y=ydata, mode='lines', yaxis='y2', line=dict(color=col, width=3)))

# plot area in pixels: x 163..810, y 30..560
L, R, T, B = 163, 810, 30, 560


def px(x):
    return (x - L) / (R - L)


def py(y):
    return (B - y) / (B - T)


annotations = [
    dict(text="<b>De Bilt \u00a0(NL) \u00a02m Dewpoint &amp; Precipitation | Tue, 06Jan2026 12Z</b>",
         x=px(435), y=py(12), font=dict(size=16, color='white')),
    dict(text="GFS Ensemble, 52N, 5E", x=px(120), y=py(599), xanchor='left', font=dict(size=16, color='#e8e8e8')),
    dict(text="Wetterzentrale.de", x=px(650), y=py(599), xanchor='left', font=dict(size=16, color='#e8e8e8')),
    dict(text="Date (UTC)", x=px(486), y=py(589), font=dict(size=10.5, color='white')),
    dict(text="2m Dewpoint (\u00b0C)", x=px(131), y=py(294), textangle=-90, font=dict(size=11, color='white')),
    dict(text="Precipitation (mm)", x=px(840), y=py(295), textangle=-90, font=dict(size=10.5, color='white')),
]
shapes = []

# hand-placed two-column legend on the left
legend_items = [(member_names[k], member_colors[k]) for k in range(30)]
legend_items += [("Control", CONTROL), ("Ens. mean", MEAN), ("Oper", OPER)]
for n, (label, col) in enumerate(legend_items):
    row, column = n // 2, n % 2
    ly = 39 + 15.15 * row
    x0, x1, tx = (0, 8.5, 9) if column == 0 else (54, 64, 64.5)
    shapes.append(dict(type='line', xref='paper', yref='paper', x0=px(x0), x1=px(x1),
                       y0=py(ly + 1.5), y1=py(ly + 1.5), line=dict(color=col, width=2)))
    annotations.append(dict(text=label, x=px(tx), y=py(ly), xanchor='left', yanchor='middle',
                            font=dict(size=10.5, color='white')))

for a in annotations:
    a.setdefault('xref', 'paper')
    a.setdefault('yref', 'paper')
    a.setdefault('showarrow', False)
    a.setdefault('xanchor', 'center')
    a.setdefault('yanchor', 'middle')
    a['font'].setdefault('family', FONT)

fig.update_layout(
    width=850, height=620,
    paper_bgcolor='black', plot_bgcolor='black',
    margin=dict(l=L, r=850 - R, t=T, b=620 - B),
    font=dict(family=FONT, color='white', size=11),
    showlegend=False,
    annotations=annotations,
    shapes=shapes,
    xaxis=dict(type='date', range=['2026-01-06 00:00', '2026-01-22 12:00'],
               tick0='2026-01-06', dtick=2 * 86400000, tickformat='%d%b %Hz',
               tickfont=dict(size=10.5, color='white'), ticklabelstandoff=3,
               showgrid=True, gridcolor=GRID, griddash='4px,4px', gridwidth=1,
               minor=dict(dtick=86400000, showgrid=True, gridcolor=GRID, griddash='4px,4px', gridwidth=1),
               showline=True, linecolor='#e0e0e0', linewidth=1, mirror=True, zeroline=False, ticks=''),
    yaxis=dict(range=[-20, 15], tick0=0, dtick=2, tickfont=dict(size=11, color='white'),
               showgrid=True, gridcolor=GRID, griddash='4px,4px', gridwidth=1,
               zeroline=True, zerolinecolor='white', zerolinewidth=1,
               showline=True, linecolor='#e0e0e0', linewidth=1, mirror=True, ticks='',
               ticklabelstandoff=6),
    yaxis2=dict(range=[0, 40], overlaying='y', side='right', tick0=0, dtick=10,
                tickfont=dict(size=12, color='white'), showgrid=False, zeroline=False,
                ticks='inside', ticklen=4, tickcolor='white',
                minor=dict(dtick=1, ticks='inside', ticklen=4, tickcolor='white')),
)

# drop the default 8px page margin so the figure sits at the window's top-left corner
fig.write_html("out.html", config={'displayModeBar': False},
               post_script="document.body.style.margin='0';")
